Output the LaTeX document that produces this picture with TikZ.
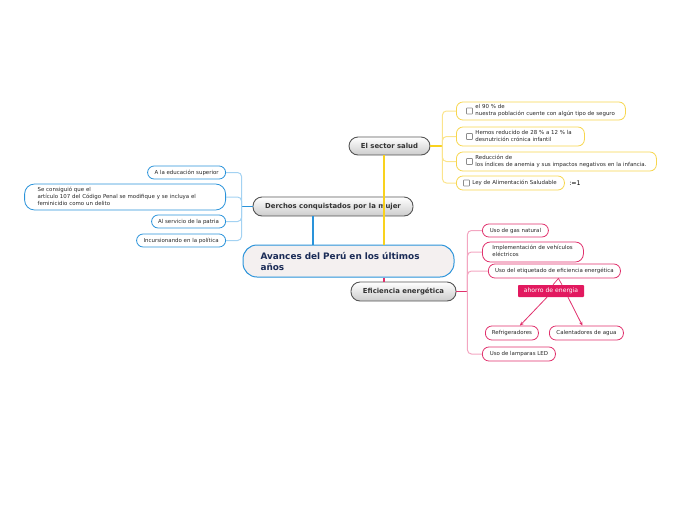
\documentclass[tikz,border=0pt]{standalone}
\usepackage{fontspec}
\setsansfont{DejaVu Sans}
\usetikzlibrary{arrows.meta}
\definecolor{mmblue}{HTML}{2A93DA}
\definecolor{mmbluel}{HTML}{A3D2F2}
\definecolor{mmyellow}{HTML}{F9D21E}
\definecolor{mmyellowb}{HTML}{F7D64E}
\definecolor{mmyellowl}{HTML}{FBE48C}
\definecolor{mmpink}{HTML}{E0306C}
\definecolor{mmpinkl}{HTML}{F3A6C1}
\definecolor{mmpinkd}{HTML}{E2195F}
\definecolor{mmgray}{HTML}{555555}
\definecolor{mmnavy}{HTML}{1A2B56}
\definecolor{mmcentro}{HTML}{F4F0F0}
% texto con sangria fija a la izquierda (deja sitio a la casilla)
\newcommand{\sangria}[2]{\hspace*{#1}\begin{tabular}{@{}l@{}}#2\end{tabular}}

\begin{document}
\begin{tikzpicture}[x=1pt, y=-1pt,
  raiz/.style={draw=mmblue, line width=1pt, fill=mmcentro, rounded corners=14pt,
               minimum width=211pt, minimum height=32pt, text width=176pt, align=left,
               font=\sffamily\bfseries\fontsize{8.9}{11}\selectfont, text=mmnavy},
  tema/.style={draw=mmgray, line width=0.9pt, rounded corners=9pt, top color=white,
               bottom color=black!20, minimum height=19pt,
               font=\sffamily\bfseries\fontsize{6.9}{8}\selectfont, text=black!80},
  hoja/.style={draw, fill=white, line width=0.8pt, rounded corners=6.5pt, minimum height=13pt,
               inner xsep=4pt, inner ysep=1.2pt, font=\sffamily\fontsize{5.45}{7}\selectfont,
               text=black!85},
  etiq/.style={fill=mmpinkd, rounded corners=0.8pt, minimum width=66pt, minimum height=12pt,
               inner sep=1pt, font=\sffamily\fontsize{6.1}{7}\selectfont, text=white},
  caja/.style={draw=black!45, line width=0.6pt, fill=white, minimum size=6pt, inner sep=0pt,
               rounded corners=0.5pt},
  rama/.style={line width=1pt, rounded corners=4pt},
  flecha/.style={-{Stealth[length=4pt,width=3.5pt]}, mmpink, line width=0.8pt},
]
\useasboundingbox (0,0) rectangle (696,520);

% Tema central y temas principales
\node[raiz] (raiz) at (348.5,261) {Avances del Perú en los últimos\\años};
\node[tema, minimum width=160pt] (mujer) at (333,206.5) {Derchos conquistados por la mujer};
\node[tema, minimum width=81pt, minimum height=18pt] (salud) at (389.5,146) {El sector salud};
\node[tema, minimum width=105pt] (energia) at (403.5,291.5) {Eficiencia energética};

\draw[mmblue, line width=2pt] ([xshift=-35.5pt]raiz.north) -- ([xshift=-20pt]mujer.south);
\draw[mmyellow, line width=2pt] ([xshift=35.5pt]raiz.north) -- ([xshift=-5.5pt]salud.south);
\draw[mmpink, line width=2pt] ([xshift=35.5pt]raiz.south) -- ([xshift=-19.5pt]energia.north);

% Sector salud
\node[hoja, draw=mmyellowb, anchor=west, text width=161pt, align=left, minimum height=18pt] (s1) at (456,111)
  {\sangria{15pt}{el 90 \% de\\nuestra población cuente con algún tipo de seguro}};
\node[hoja, draw=mmyellowb, anchor=west, text width=120pt, align=left, minimum height=19pt] (s2) at (456,136.5)
  {\sangria{15pt}{Hemos reducido de 28 \% a 12 \% la\\desnutrición crónica infantil}};
\node[hoja, draw=mmyellowb, anchor=west, text width=192pt, align=left, minimum height=19pt] (s3) at (456,161.5)
  {\sangria{15pt}{Reducción de\\los índices de anemia y sus impactos negativos en la infancia.}};
\node[hoja, draw=mmyellowb, anchor=west, text width=100pt, align=left, minimum height=14pt] (s4) at (456,183)
  {\sangria{12pt}{Ley de Alimentación Saludable}};
\node[font=\sffamily\fontsize{6.3}{7}\selectfont] (s4n) at (575,183.5) {:=1};

\node[caja] (s1c) at ([xshift=13.5pt]s1.west) {};
\node[caja] (s2c) at ([xshift=13.5pt]s2.west) {};
\node[caja] (s3c) at ([xshift=13.5pt]s3.west) {};
\node[caja] (s4c) at ([xshift=10.5pt]s4.west) {};

\coordinate (sj) at ([xshift=12pt]salud.east);
\draw[mmyellow, line width=1.6pt] (salud.east) -- (sj);
\foreach \h in {s1,s2,s3,s4}
  \draw[mmyellowl, rama] (sj) |- (\h.west);

% Derechos de la mujer
\node[hoja, draw=mmblue, anchor=east, minimum width=78pt] (m1) at (226,172.5) {A la educación superior};
\node[hoja, draw=mmblue, anchor=east, text width=193pt, align=left, minimum height=26pt, rounded corners=10pt] (m2) at (226,197)
  {\sangria{9pt}{Se consiguió que el\\artículo 107 del Código Penal se modifique y se incluya el\\feminicidio como un delito}};
\node[hoja, draw=mmblue, anchor=east, minimum width=74pt] (m3) at (226,221.5) {Al servicio de la patria};
\node[hoja, draw=mmblue, anchor=east, minimum width=89pt] (m4) at (226,240.5) {Incursionando en la política};

\coordinate (mj) at ([xshift=-11pt]mujer.west);
\draw[mmblue, line width=1.4pt] (mujer.west) -- (mj);
\foreach \h in {m1,m2,m3,m4}
  \draw[mmbluel, rama] (mj) |- (\h.east);

% Eficiencia energetica
\node[hoja, draw=mmpink, anchor=west, minimum width=66pt] (e1) at (482,230.5) {Uso de gas natural};
\node[hoja, draw=mmpink, anchor=west, text width=93pt, align=left, minimum height=20pt, rounded corners=8pt] (e2) at (482,252)
  {\sangria{6pt}{Implementación de vehículos\\eléctricos}};
\node[hoja, draw=mmpink, anchor=west, minimum width=132pt, minimum height=14pt] (e3) at (488,271)
  {Uso del etiquetado de eficiencia energética};
\node[etiq] (ahorro) at (551,291) {ahorro de energia};
\node[hoja, draw=mmpink, anchor=west, minimum width=53pt, minimum height=14pt] (refri) at (485,333) {Refrigeradores};
\node[hoja, draw=mmpink, anchor=west, minimum width=74pt, minimum height=14pt] (calent) at (549,333) {Calentadores de agua};
\node[hoja, draw=mmpink, anchor=west, minimum width=73pt, minimum height=14pt] (e7) at (482,354) {Uso de lamparas LED};

\coordinate (ej) at ([xshift=11pt]energia.east);
\draw[mmpink, line width=1.4pt] (energia.east) -- (ej);
\foreach \h in {e1,e2,e3,e7}
  \draw[mmpinkl, rama] (ej) |- (\h.west);

\draw[mmpink, line width=0.7pt] ([xshift=2pt]ahorro.north) -- ([xshift=4pt]e3.south) -- ([xshift=11pt]ahorro.north);
\draw[flecha] ([xshift=-4pt]ahorro.south) -- ([xshift=8pt]refri.north);
\draw[flecha] ([xshift=17pt]ahorro.south) -- ([xshift=-4pt]calent.north);

\end{tikzpicture}
\end{document}
